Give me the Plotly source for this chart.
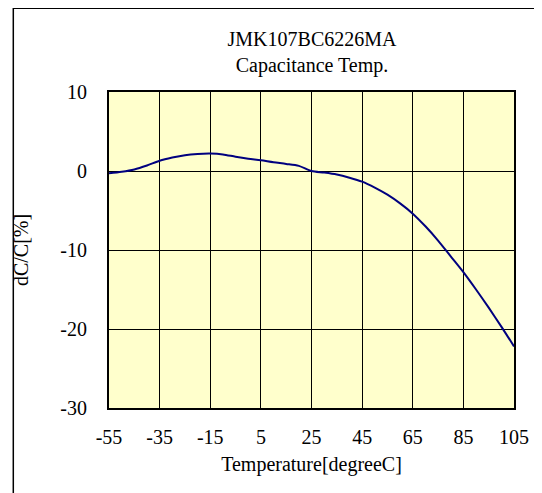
import plotly.graph_objects as go

temps = [-55, -50, -45, -40, -35, -30, -25, -20, -15, -10, -5, 0, 5, 10, 15, 20, 25,
         30, 35, 40, 45, 50, 55, 60, 65, 70, 75, 80, 85, 90, 95, 100, 105]
dcc = [-0.3, -0.1, 0.2, 0.7, 1.3, 1.7, 2.0, 2.15, 2.2, 2.1, 1.8, 1.55, 1.35, 1.1, 0.9, 0.65, 0.0,
       -0.2, -0.45, -0.85, -1.35, -2.1, -3.0, -4.1, -5.4, -7.0, -8.8, -10.8, -12.8, -15.0, -17.3, -19.7, -22.2]

x_ticks = [-55, -35, -15, 5, 25, 45, 65, 85, 105]
y_ticks = [-30, -20, -10, 0, 10]

FONT = "Liberation Serif"
# the page body adds an 8px offset, so the figure is drawn 8px smaller and shifted
OFF = 8
W, H = 542 - OFF, 493 - OFF
L, R, T, B = 103.5 - OFF, 28, 92 - OFF, 85

fig = go.Figure()
fig.add_trace(go.Scatter(x=temps, y=dcc, mode="lines",
                         line=dict(color="#00007F", width=2, shape="spline", smoothing=0.8),
                         showlegend=False, hoverinfo="skip"))

fig.update_layout(
    width=W, height=H,
    margin=dict(l=L, r=R, t=T, b=B, pad=0),
    paper_bgcolor="white", plot_bgcolor="#FFFFCC",
    font=dict(family=FONT, size=20, color="black"),
    title=dict(text="JMK107BC6226MA<br>Capacitance Temp.", x=(312 - OFF) / W, xref="container",
               xanchor="center", y=1 - (46 - OFF) / H, yref="container", yanchor="top",
               font=dict(family=FONT, size=20, color="black")),
    xaxis=dict(range=[-55, 105], tickvals=x_ticks, ticktext=[str(v) for v in x_ticks],
               showgrid=True, gridcolor="black", gridwidth=1.3, zeroline=False,
               showline=True, linecolor="black", linewidth=2, mirror=True,
               ticks="outside", ticklen=0, ticklabelstandoff=10,
               title=dict(text="Temperature[degreeC]", standoff=10,
                          font=dict(family=FONT, size=20))),
    yaxis=dict(range=[-30, 10], tickvals=y_ticks, ticktext=[str(v) for v in y_ticks],
               showgrid=True, gridcolor="black", gridwidth=1.3, zeroline=False,
               showline=True, linecolor="black", linewidth=2, mirror=True,
               ticks="outside", ticklen=0, ticklabelstandoff=16,
               title=dict(text="dC/C[%]", standoff=26, font=dict(family=FONT, size=20))),
)

pw = W - L - R
ph = H - T - B
fig.add_shape(type="rect", xref="paper", yref="paper",
              x0=(6.5 - OFF - L) / pw, x1=(W + 10 - L) / pw,
              y0=(H - B - (H + 10)) / ph, y1=(H - B - (8.3 - OFF)) / ph,
              line=dict(color="black", width=1.5), fillcolor="rgba(0,0,0,0)", layer="above")

fig.write_html("out.html")
